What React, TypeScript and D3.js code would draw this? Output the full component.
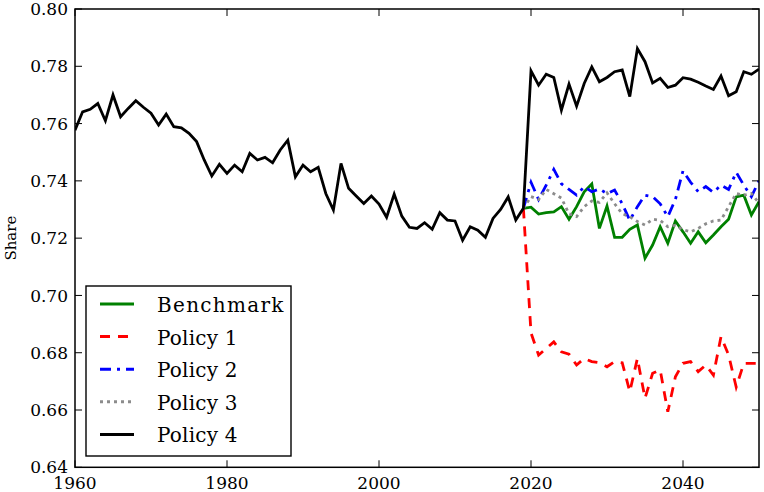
import React from "react";
import * as d3 from "d3";

const historyYears = d3.range(1960, 2020);
const historyValues = [
  0.7577, 0.7641, 0.765, 0.767, 0.761, 0.770, 0.7624, 0.7653, 0.768, 0.7657,
  0.7636, 0.7595, 0.7633, 0.7589, 0.7585, 0.7566, 0.7537, 0.7473, 0.7417, 0.7458,
  0.7426, 0.7455, 0.7432, 0.7496, 0.7473, 0.7482, 0.7463, 0.7508, 0.7542, 0.7414,
  0.7455, 0.7432, 0.7447, 0.7356, 0.7298, 0.7461, 0.7374, 0.7347, 0.7321, 0.7347,
  0.7319, 0.7273, 0.7354, 0.7277, 0.7238, 0.7234, 0.7254, 0.7231, 0.7289, 0.7263,
  0.7260, 0.7193, 0.7240, 0.7228, 0.7203, 0.7269, 0.7300, 0.7344, 0.7263, 0.7304,
];

const scenarioYears = d3.range(2019, 2051);
const benchmark = [
  0.7304, 0.7308, 0.7284, 0.7289, 0.7292, 0.7310, 0.7266, 0.7310, 0.7362, 0.7389,
  0.7234, 0.7312, 0.7203, 0.7203, 0.7231, 0.7246, 0.7130, 0.7176, 0.7240, 0.7182,
  0.7260, 0.7222, 0.7182, 0.7222, 0.7184, 0.7211, 0.7240, 0.7266, 0.7344, 0.7350,
  0.7281, 0.7327,
];
const policy1 = [
  0.7304, 0.6869, 0.6792, 0.6815, 0.6838, 0.6803, 0.6795, 0.6757, 0.6780, 0.6769,
  0.6765, 0.6751, 0.6769, 0.6765, 0.6664, 0.6780, 0.6641, 0.6728, 0.6740, 0.6594,
  0.6716, 0.6763, 0.6769, 0.6734, 0.6757, 0.6722, 0.6856, 0.6792, 0.6680, 0.6763,
  0.6763, 0.6763,
];
const policy2 = [
  0.7304, 0.7395, 0.7335, 0.7385, 0.7440, 0.7390, 0.7370, 0.7350, 0.7380, 0.7362,
  0.7372, 0.7355, 0.7368, 0.7320, 0.7262, 0.7310, 0.7350, 0.7345, 0.7320, 0.7275,
  0.7335, 0.7435, 0.7395, 0.7362, 0.7380, 0.7360, 0.7385, 0.7370, 0.7430, 0.7385,
  0.7345, 0.7400,
];
const policy3 = [
  0.7304, 0.7345, 0.7335, 0.7370, 0.7355, 0.7340, 0.7285, 0.7275, 0.7310, 0.7330,
  0.7325, 0.7358, 0.7320, 0.7285, 0.7275, 0.7258, 0.7246, 0.7266, 0.7262, 0.7240,
  0.7245, 0.7230, 0.7222, 0.7234, 0.7250, 0.7260, 0.7263, 0.7310, 0.7356, 0.7350,
  0.7356, 0.7322,
];
const policy4 = [
  0.7304, 0.7784, 0.7734, 0.7772, 0.7761, 0.7647, 0.7738, 0.7661, 0.7740, 0.7798,
  0.7746, 0.7761, 0.7781, 0.7787, 0.7694, 0.7862, 0.7816, 0.7742, 0.7758, 0.7726,
  0.7734, 0.7760, 0.7755, 0.7744, 0.7731, 0.7719, 0.7766, 0.7697, 0.7711, 0.7781,
  0.7772, 0.7790,
];

const seriesNames = ["Benchmark", "Policy 1", "Policy 2", "Policy 3", "Policy 4"];
const xTicks = [1960, 1980, 2000, 2020, 2040];
const yTicks = [0.64, 0.66, 0.68, 0.7, 0.72, 0.74, 0.76, 0.78, 0.8];

const W = 764;
const H = 492;
const L = 75;
const R = 759;
const T = 9;
const B = 467.3;

const styles = [
  { color: "#008000", dash: null as string | null },
  { color: "#ff0000", dash: "10,8" },
  { color: "#0000ff", dash: "11,6,3,6" },
  { color: "#8c8c8c", dash: "3,4" },
  { color: "#000000", dash: null as string | null },
];

export default function App() {
  const x = d3.scaleLinear().domain([1960, 2050]).range([L, R]);
  const y = d3.scaleLinear().domain([0.64, 0.8]).range([B, T]);
  const line = d3
    .line<[number, number]>()
    .x((d) => x(d[0]))
    .y((d) => y(d[1]));

  const zip = (ys: number[], vs: number[]) =>
    ys.map((yr, i) => [yr, vs[i]] as [number, number]);

  const scen = [benchmark, policy1, policy2, policy3];
  const blackData = zip(historyYears, historyValues).concat(
    zip(scenarioYears.slice(1), policy4.slice(1))
  );
  const paths = [
    ...scen.map((s) => zip(scenarioYears, s)),
    blackData,
  ];

  const font = "'DejaVu Serif', serif";
  const tickLen = 7;

  return (
    <svg
      width={W}
      height={H}
      style={{ position: "absolute", left: 0, top: 0, background: "#fff" }}
    >
      <rect x={0} y={0} width={W} height={H} fill="#fff" />
      <defs>
        <clipPath id="plot">
          <rect x={L} y={T} width={R - L} height={B - T} />
        </clipPath>
      </defs>
      <g clipPath="url(#plot)">
        {paths.map((p, i) => (
          <path
            key={i}
            d={line(p) || ""}
            fill="none"
            stroke={styles[i].color}
            strokeWidth={2.8}
            strokeDasharray={styles[i].dash || undefined}
            strokeLinejoin="miter"
          />
        ))}
      </g>
      {/* ticks */}
      {xTicks.map((t) => (
        <g key={"x" + t}>
          <line x1={x(t)} x2={x(t)} y1={B} y2={B - tickLen} stroke="#000" strokeWidth={1} />
          <line x1={x(t)} x2={x(t)} y1={T} y2={T + tickLen} stroke="#000" strokeWidth={1} />
          <text
            x={x(t)}
            y={489}
            textAnchor="middle"
            fontFamily={font}
            fontSize={17}
            fill="#000"
          >
            {t}
          </text>
        </g>
      ))}
      {yTicks.map((t) => (
        <g key={"y" + t}>
          <line x1={L} x2={L + tickLen} y1={y(t)} y2={y(t)} stroke="#000" strokeWidth={1} />
          <line x1={R} x2={R - tickLen} y1={y(t)} y2={y(t)} stroke="#000" strokeWidth={1} />
          <text
            x={68}
            y={y(t)}
            dy="0.36em"
            textAnchor="end"
            fontFamily={font}
            fontSize={17}
            fill="#000"
          >
            {d3.format(".2f")(t)}
          </text>
        </g>
      ))}
      <rect
        x={L}
        y={T}
        width={R - L}
        height={B - T}
        fill="none"
        stroke="#000"
        strokeWidth={1.5}
      />
      <text
        transform={`translate(16,${(T + B) / 2}) rotate(-90)`}
        textAnchor="middle"
        fontFamily={font}
        fontSize={15}
        fill="#000"
      >
        Share
      </text>
      {/* legend */}
      <rect x={86} y={286} width={205} height={170} fill="#fff" stroke="#000" strokeWidth={1.4} />
      {seriesNames.map((n, i) => {
        const cy = 304 + i * 32.6;
        return (
          <g key={n}>
            <line
              x1={100}
              x2={134}
              y1={cy}
              y2={cy}
              stroke={styles[i].color}
              strokeWidth={3}
              strokeDasharray={styles[i].dash || undefined}
            />
            <text
              x={157}
              y={cy + 8}
              fontFamily={font}
              fontSize={20}
              letterSpacing={i === 0 ? 1.3 : 0.2}
              fill="#000"
            >
              {n}
            </text>
          </g>
        );
      })}
    </svg>
  );
}
